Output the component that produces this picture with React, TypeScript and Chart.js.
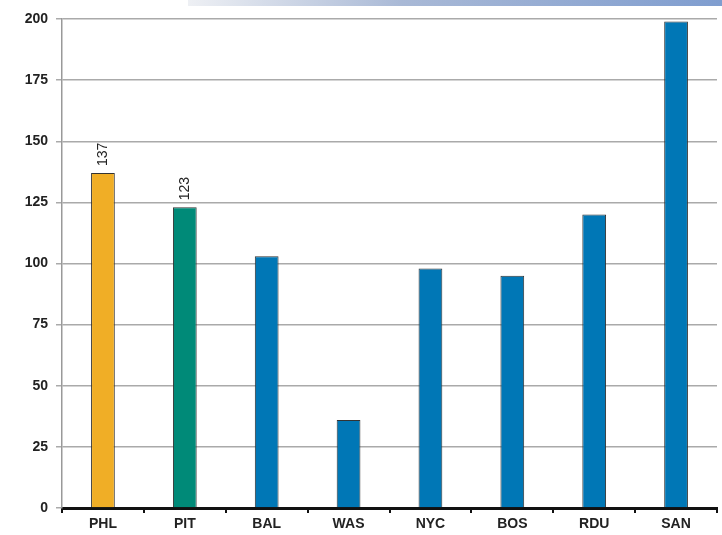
import React, { useEffect, useRef } from "react";
import { Chart, registerables } from "chart.js";

Chart.register(...registerables);

const categories = ["PHL", "PIT", "BAL", "WAS", "NYC", "BOS", "RDU", "SAN"];
const values = [137, 123, 103, 36, 98, 95, 120, 199];
const barColors = ["#f0ae26", "#008a78", "#0077b6", "#0077b6", "#0077b6", "#0077b6", "#0077b6", "#0077b6"];
const labeledBars = [0, 1];
const yTicks = [0, 25, 50, 75, 100, 125, 150, 175, 200];

const labelPlugin = {
  id: "rotLabels",
  afterDatasetsDraw(chart: any) {
    const ctx = chart.ctx;
    const meta = chart.getDatasetMeta(0);
    ctx.save();
    ctx.font = "14px 'Liberation Sans', Arial, sans-serif";
    ctx.fillStyle = "#222";
    ctx.textAlign = "left";
    ctx.textBaseline = "middle";
    labeledBars.forEach((i) => {
      const el = meta.data[i];
      ctx.save();
      ctx.translate(el.x, el.y - 7);
      ctx.rotate(-Math.PI / 2);
      ctx.fillText(String(values[i]), 0, 0);
      ctx.restore();
    });
    ctx.restore();
  },
};

export default function App() {
  const ref = useRef<HTMLCanvasElement>(null);
  useEffect(() => {
    document.body.style.margin = "0";
    const chart = new Chart(ref.current!, {
      type: "bar",
      data: {
        labels: categories,
        datasets: [
          {
            data: values,
            backgroundColor: barColors,
            borderColor: "#333",
            borderWidth: 1,
            barPercentage: 0.29,
            categoryPercentage: 1,
          },
        ],
      },
      options: {
        responsive: false,
        animation: false,
        layout: { padding: { top: 19, right: 5, left: 0, bottom: 0 } },
        plugins: { legend: { display: false }, tooltip: { enabled: false } },
        scales: {
          x: {
            grid: {
              drawOnChartArea: false,
              offset: true,
              tickLength: 5,
              color: "#111",
              lineWidth: 2,
            },
            border: { color: "#111", width: 3 },
            ticks: {
              color: "#222",
              padding: 3,
              font: { family: "'Liberation Sans', Arial, sans-serif", size: 14, weight: "bold" },
            },
            afterFit(scale: any) {
              scale.height = 27;
            },
          },
          y: {
            min: 0,
            max: 200,
            afterBuildTicks(scale: any) {
              scale.ticks = yTicks.map((v) => ({ value: v }));
            },
            grid: { color: "#aaa", lineWidth: 1.5, tickLength: 6 },
            border: { color: "#999", width: 1.5 },
            ticks: {
              color: "#222",
              padding: 8,
              font: { family: "'Liberation Sans', Arial, sans-serif", size: 14, weight: "bold" },
            },
            afterFit(scale: any) {
              scale.width = 62;
            },
          },
        },
      },
      plugins: [labelPlugin],
    });
    return () => chart.destroy();
  }, []);
  return (
    <div style={{ position: "relative", width: 722, height: 535, background: "#fff" }}>
      <div
        style={{
          position: "absolute",
          left: 188,
          top: 0,
          width: 534,
          height: 6,
          background: "linear-gradient(to right, #eef0f4, #a9b9d6 40%, #7f9dcf)",
        }}
      />
      <canvas ref={ref} width={722} height={535} style={{ position: "absolute", left: 0, top: 0 }} />
    </div>
  );
}
